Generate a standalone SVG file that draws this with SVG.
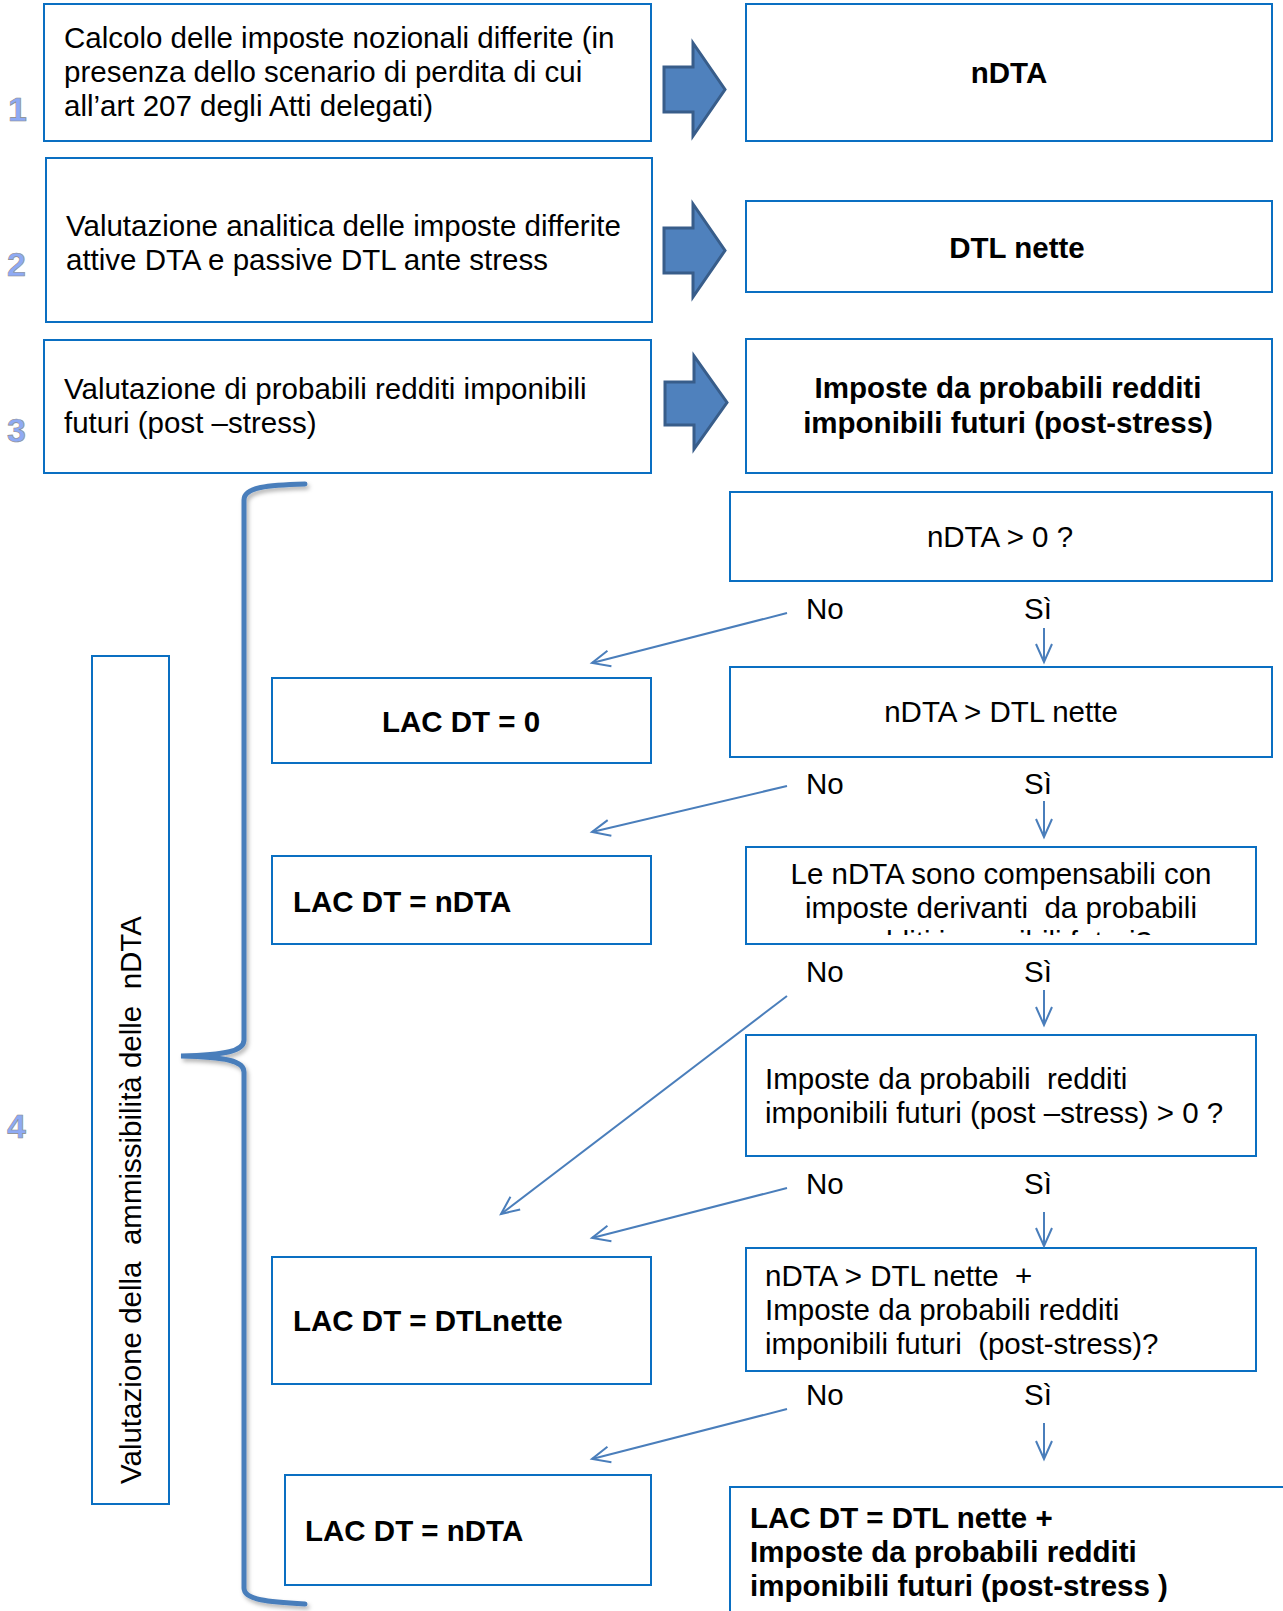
<svg xmlns="http://www.w3.org/2000/svg" width="1283" height="1611" viewBox="0 0 1283 1611">
<style>
  .box { fill: #ffffff; stroke: #0a6fc2; stroke-width: 2; }
  .t { font-family: "Liberation Sans", Arial, sans-serif; font-size: 29.5px; fill: #000; white-space: pre; }
  .b { font-weight: bold; }
  .mid { text-anchor: middle; }
  .num { font-family: "Liberation Sans", Arial, sans-serif; font-size: 34px; font-weight: bold; fill: #8eaaf4; stroke: #8c8c8c; stroke-width: 0.6; }
  .blk { fill: #4f81bd; stroke: #385d8a; stroke-width: 3; stroke-linejoin: miter; }
  .con { fill: none; stroke: #4a7ebb; stroke-width: 2; marker-end: url(#open); }
</style>
<defs>
  <marker id="open" markerUnits="userSpaceOnUse" viewBox="-20 -10 22 20" markerWidth="22" markerHeight="20" refX="0" refY="0" orient="auto" overflow="visible">
    <path d="M-18,-8 L0,0 L-18,8" fill="none" stroke="#4a7ebb" stroke-width="2"/>
  </marker>
  <filter id="sh" x="-20%" y="-5%" width="140%" height="110%">
    <feDropShadow dx="2" dy="3" stdDeviation="2" flood-color="#000" flood-opacity="0.3"/>
  </filter>
  <clipPath id="clipQ">
    <rect x="746" y="847" width="510" height="88"/>
  </clipPath>
</defs>
<rect width="1283" height="1611" fill="#ffffff"/>

<g id="numbers">
  <text class="num" x="8" y="121">1</text>
  <text class="num" x="7" y="276">2</text>
  <text class="num" x="7" y="442">3</text>
  <text class="num" x="7" y="1138">4</text>
</g>

<g id="step1">
  <rect class="box" x="44" y="4" width="607" height="137"/>
  <text class="t" x="64" y="48">Calcolo delle imposte nozionali differite (in</text>
  <text class="t" x="64" y="82">presenza dello scenario di perdita di cui</text>
  <text class="t" x="64" y="116">all’art 207 degli Atti delegati)</text>
</g>
<g id="step2">
  <rect class="box" x="46" y="158" width="606" height="164"/>
  <text class="t" x="66" y="236">Valutazione analitica delle imposte differite</text>
  <text class="t" x="66" y="270">attive DTA e passive DTL ante stress</text>
</g>
<g id="step3">
  <rect class="box" x="44" y="340" width="607" height="133"/>
  <text class="t" x="64" y="399">Valutazione di probabili redditi imponibili</text>
  <text class="t" x="64" y="433">futuri (post –stress)</text>
</g>

<g id="block-arrows">
  <polygon class="blk" points="664,67 693,67 693,43 725,89.5 693,136 693,112 664,112"/>
  <polygon class="blk" points="664,228 693,228 693,204 725,250.5 693,297 693,273 664,273"/>
  <polygon class="blk" points="665,382 694,382 694,356 727,402.5 694,449 694,425 665,425"/>
</g>

<g id="res1">
  <rect class="box" x="746" y="4" width="526" height="137"/>
  <text class="t b mid" x="1009" y="83">nDTA</text>
</g>
<g id="res2">
  <rect class="box" x="746" y="201" width="526" height="91"/>
  <text class="t b mid" x="1017" y="258">DTL nette</text>
</g>
<g id="res3">
  <rect class="box" x="746" y="339" width="526" height="134"/>
  <text class="t b mid" x="1008" y="398">Imposte da probabili redditi</text>
  <text class="t b mid" x="1008" y="433">imponibili futuri (post-stress)</text>
</g>

<g id="brace">
  <path d="M305,484 C268,485 244,487 244,500 L244,1040 C244,1051 226,1055 181,1056 C226,1057 244,1061 244,1072 L244,1588 C244,1600 268,1602 305,1604" fill="none" stroke="#4a7ebb" stroke-width="5" stroke-linecap="round" filter="url(#sh)"/>
</g>

<g id="vertical-label">
  <rect class="box" x="92" y="656" width="77" height="848"/>
  <text class="t" transform="translate(141,1484) rotate(-90)" x="0" y="0">Valutazione della  ammissibilità delle  nDTA</text>
</g>

<g id="q1">
  <rect class="box" x="730" y="492" width="542" height="89"/>
  <text class="t mid" x="1000" y="547">nDTA &gt; 0 ?</text>
</g>
<g id="q2">
  <rect class="box" x="730" y="667" width="542" height="90"/>
  <text class="t mid" x="1001" y="722">nDTA &gt; DTL nette</text>
</g>
<g id="q3">
  <rect class="box" x="746" y="847" width="510" height="97"/>
  <g clip-path="url(#clipQ)">
    <text class="t mid" x="1001" y="884">Le nDTA sono compensabili con</text>
    <text class="t mid" x="1001" y="918">imposte derivanti  da probabili</text>
    <text class="t mid" x="1001" y="952">redditi imponibili futuri?</text>
  </g>
</g>
<g id="q4">
  <rect class="box" x="746" y="1035" width="510" height="121"/>
  <text class="t" x="765" y="1089">Imposte da probabili  redditi</text>
  <text class="t" x="765" y="1123">imponibili futuri (post –stress) &gt; 0 ?</text>
</g>
<g id="q5">
  <rect class="box" x="746" y="1248" width="510" height="123"/>
  <text class="t" x="765" y="1286">nDTA &gt; DTL nette  +</text>
  <text class="t" x="765" y="1320">Imposte da probabili redditi</text>
  <text class="t" x="765" y="1354">imponibili futuri  (post-stress)?</text>
</g>

<g id="lac0">
  <rect class="box" x="272" y="678" width="379" height="85"/>
  <text class="t b mid" x="461" y="732">LAC DT = 0</text>
</g>
<g id="lac-ndta1">
  <rect class="box" x="272" y="856" width="379" height="88"/>
  <text class="t b" x="293" y="912">LAC DT = nDTA</text>
</g>
<g id="lac-dtl">
  <rect class="box" x="272" y="1257" width="379" height="127"/>
  <text class="t b" x="293" y="1331">LAC DT = DTLnette</text>
</g>
<g id="lac-ndta2">
  <rect class="box" x="285" y="1475" width="366" height="110"/>
  <text class="t b" x="305" y="1541">LAC DT = nDTA</text>
</g>
<g id="lac-final">
  <rect class="box" x="730" y="1487" width="600" height="200"/>
  <text class="t b" x="750" y="1528">LAC DT = DTL nette +</text>
  <text class="t b" x="750" y="1562">Imposte da probabili redditi</text>
  <text class="t b" x="750" y="1596">imponibili futuri (post-stress )</text>
</g>

<g id="labels">
  <text class="t" x="806" y="619">No</text>
  <text class="t" x="1024" y="619">Sì</text>
  <text class="t" x="806" y="794">No</text>
  <text class="t" x="1024" y="794">Sì</text>
  <text class="t" x="806" y="982">No</text>
  <text class="t" x="1024" y="982">Sì</text>
  <text class="t" x="806" y="1194">No</text>
  <text class="t" x="1024" y="1194">Sì</text>
  <text class="t" x="806" y="1405">No</text>
  <text class="t" x="1024" y="1405">Sì</text>
</g>

<g id="connectors">
  <line class="con" x1="787" y1="613" x2="592" y2="663"/>
  <line class="con" x1="1044" y1="628" x2="1044" y2="662"/>
  <line class="con" x1="787" y1="786" x2="592" y2="832"/>
  <line class="con" x1="1044" y1="801" x2="1044" y2="837"/>
  <line class="con" x1="787" y1="996" x2="501" y2="1214"/>
  <line class="con" x1="1044" y1="990" x2="1044" y2="1025"/>
  <line class="con" x1="787" y1="1188" x2="592" y2="1238"/>
  <line class="con" x1="1044" y1="1212" x2="1044" y2="1246"/>
  <line class="con" x1="787" y1="1409" x2="592" y2="1459"/>
  <line class="con" x1="1044" y1="1423" x2="1044" y2="1459"/>
</g>
</svg>
